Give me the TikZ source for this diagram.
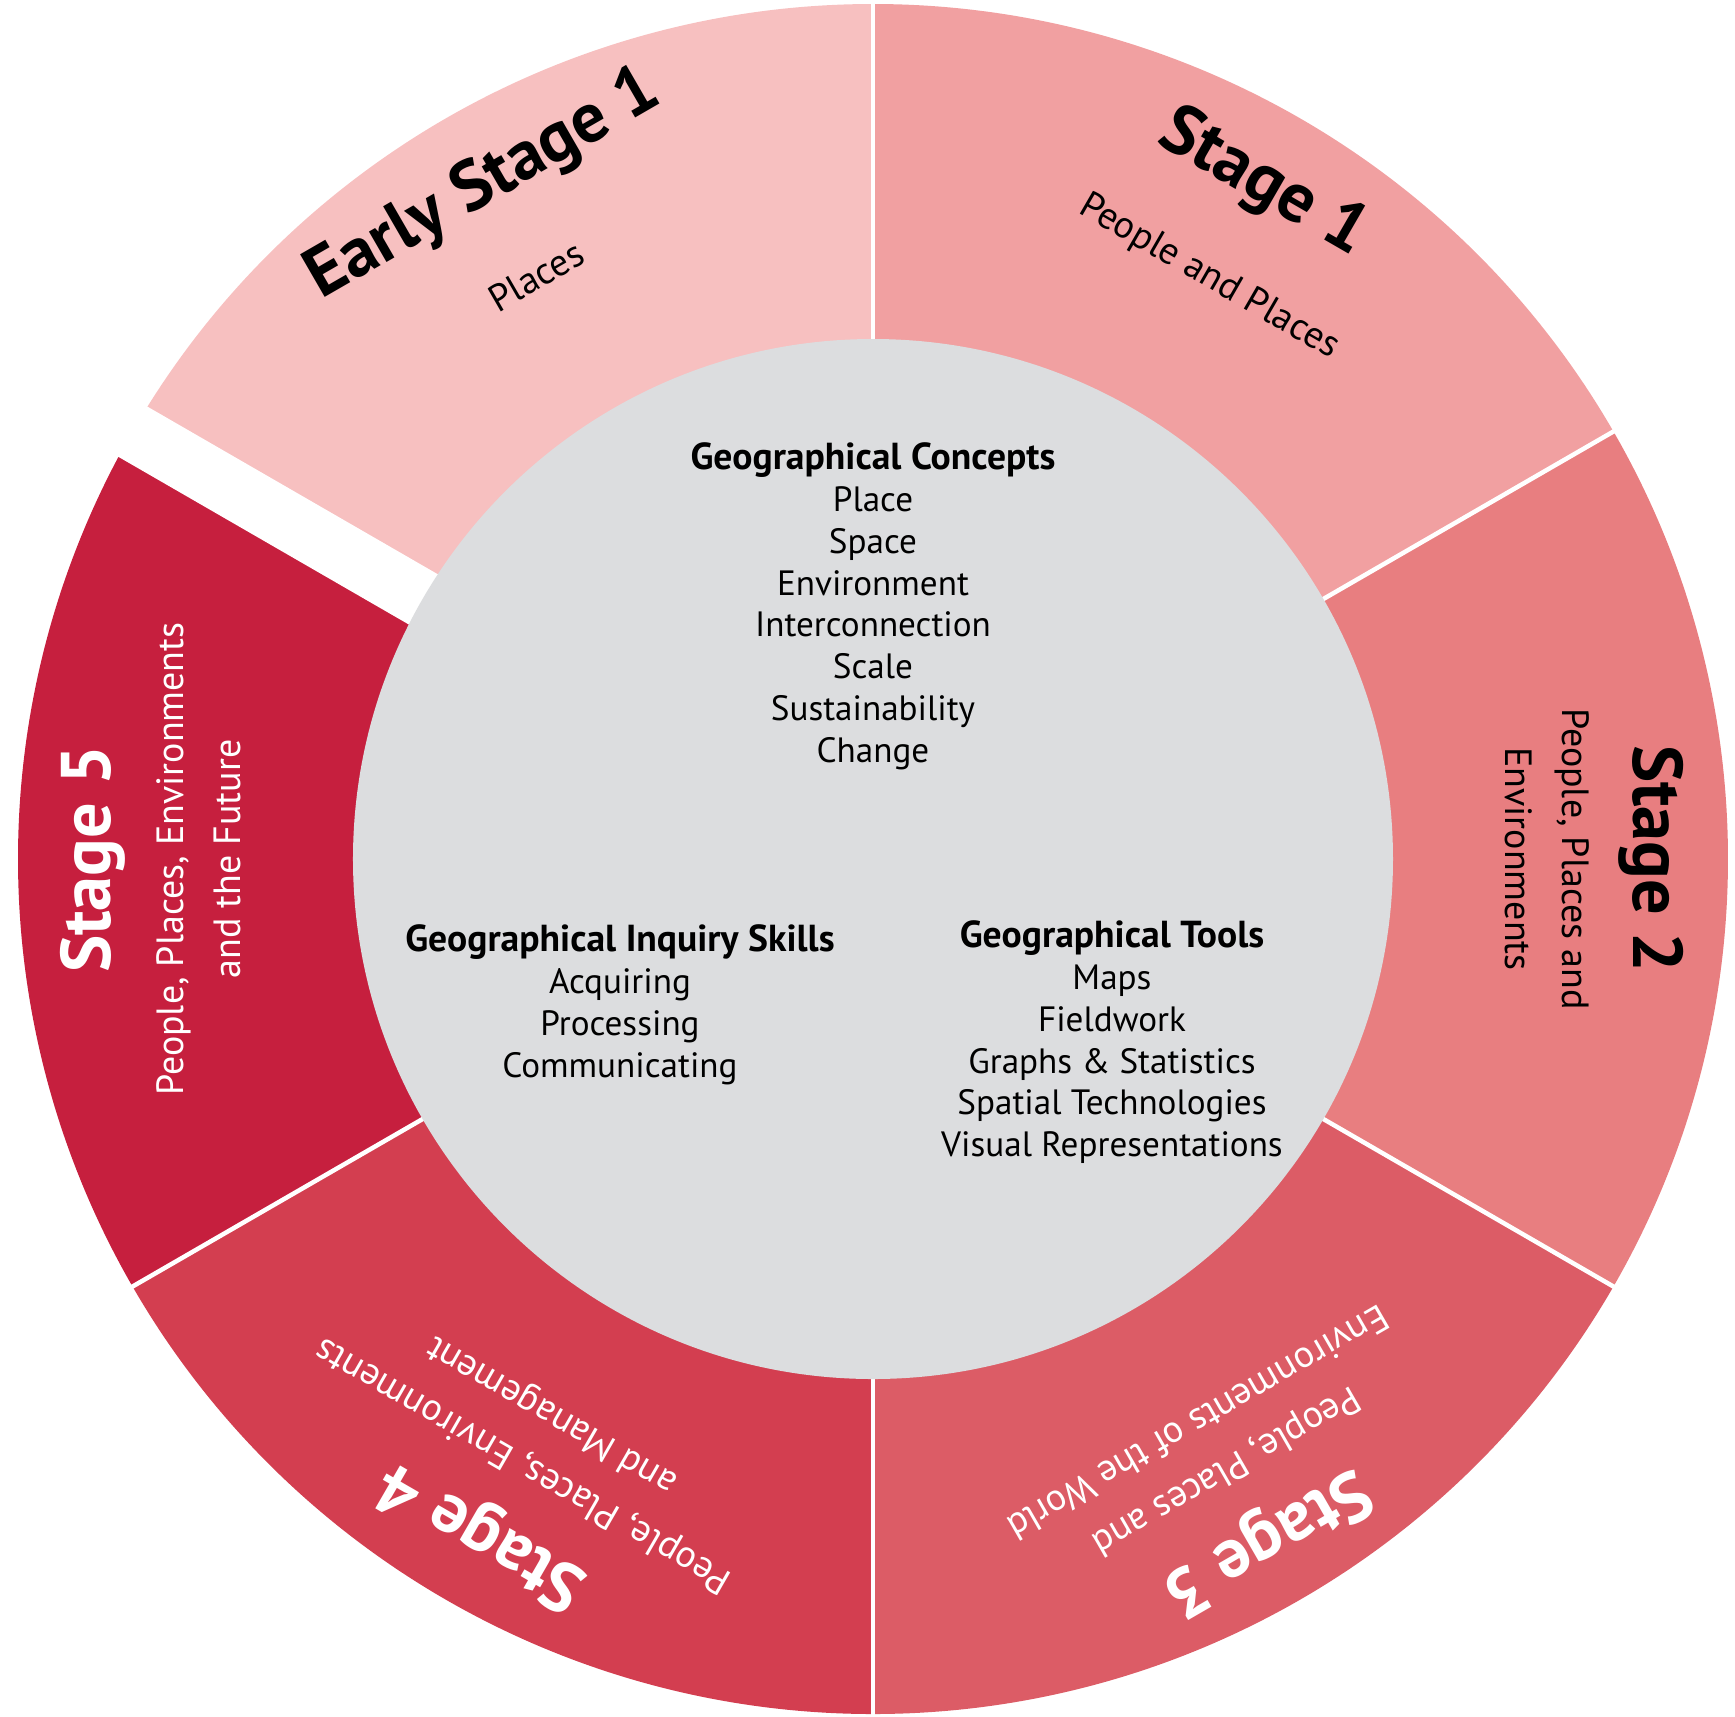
\documentclass[tikz,border=0pt]{standalone}
\usepackage{fontspec}
\setmainfont{PT Sans}
\usetikzlibrary{calc}
\definecolor{esone}{HTML}{F7C0C0}
\definecolor{sone}{HTML}{F1A0A1}
\definecolor{stwo}{HTML}{E87E80}
\definecolor{sthree}{HTML}{DC5C66}
\definecolor{sfour}{HTML}{D33E50}
\definecolor{sfive}{HTML}{C61F3E}
\definecolor{hubgrey}{HTML}{DCDDDF}
\newcommand{\hubhead}[1]{{\fontsize{10.7}{11.9}\selectfont\bfseries #1}}

\begin{document}
\begin{tikzpicture}[
    stagetitle/.style={font=\fontsize{20}{24}\selectfont\bfseries, anchor=base, inner sep=0pt},
    stagesub/.style={font=\fontsize{10.8}{14}\selectfont, anchor=base, inner sep=0pt},
    hubtext/.style={font=\fontsize{10}{11.9}\selectfont, align=center, anchor=north, inner sep=0pt},
    gapline/.style={white, line width=0.045cm}
  ]
  \useasboundingbox (-8.73,-8.57) rectangle (8.62,8.59);
  % ring segments
  \fill[esone] (0,0) -- (90:8.55) arc[start angle=90, end angle=150, radius=8.55] -- cycle;
  \fill[sone] (0,0) -- (30:8.55) arc[start angle=30, end angle=90, radius=8.55] -- cycle;
  \fill[stwo] (0,0) -- (-30:8.55) arc[start angle=-30, end angle=30, radius=8.55] -- cycle;
  \fill[sthree] (0,0) -- (-90:8.55) arc[start angle=-90, end angle=-30, radius=8.55] -- cycle;
  \fill[sfour] (0,0) -- (-150:8.55) arc[start angle=-150, end angle=-90, radius=8.55] -- cycle;
  \fill[sfive] (0,0) -- (150:8.55) arc[start angle=150, end angle=210, radius=8.55] -- cycle;
  % separators
  \draw[gapline] (0,0) -- (90:8.7);
  \draw[gapline] (0,0) -- (30:8.7);
  \draw[gapline] (0,0) -- (-30:8.7);
  \draw[gapline] (0,0) -- (-90:8.7);
  \draw[gapline] (0,0) -- (-150:8.7);
  \draw[white, line width=0.58cm] (0,0) -- (150:8.8);
  % centre
  \fill[hubgrey] (0,0) circle (5.2);

  \node[hubtext] (concepts) at (0,4.17) {\hubhead{Geographical Concepts}\\Place\\Space\\Environment\\Interconnection\\Scale\\Sustainability\\Change};
  \node[hubtext] (skills) at (-2.53,-0.65) {\hubhead{Geographical Inquiry Skills}\\Acquiring\\Processing\\Communicating};
  \node[hubtext] (tools) at (2.39,-0.61) {\hubhead{Geographical Tools}\\Maps\\Fieldwork\\Graphs \& Statistics\\Spatial Technologies\\Visual Representations};

  % stage labels
  \node[stagetitle, rotate=30] (es1) at (120:7.6) {Early Stage 1};
  \node[stagesub, rotate=30] (es1a) at (120:6.6) {Places};

  \node[stagetitle, rotate=-30] (s1) at (60:7.62) {Stage 1};
  \node[stagesub, rotate=-30] (s1a) at (60:6.62) {People and Places};

  \node[stagetitle, rotate=-90] (s2) at (0:7.6) {Stage 2};
  \node[stagesub, rotate=-90] (s2a) at (0:6.89) {People, Places and};
  \node[stagesub, rotate=-90] (s2b) at (0:6.32) {Environments};

  \node[stagetitle, white, rotate=-150] (s3) at (-60:7.68) {Stage 3};
  \node[stagesub, white, rotate=-150] (s3a) at (-60:6.95) {People, Places and};
  \node[stagesub, white, rotate=-150] (s3b) at (-60:6.38) {Environments of the World};

  \node[stagetitle, white, rotate=150] (s4) at (-120:7.62) {Stage 4};
  \node[stagesub, white, rotate=150] (s4a) at (-120:6.89) {People, Places, Environments};
  \node[stagesub, white, rotate=150] (s4b) at (-120:6.32) {and Management};

  \node[stagetitle, white, rotate=90] (s5) at (180:7.62) {Stage 5};
  \node[stagesub, white, rotate=90] (s5a) at (180:6.89) {People, Places, Environments};
  \node[stagesub, white, rotate=90] (s5b) at (180:6.32) {and the Future};
\end{tikzpicture}
\end{document}
